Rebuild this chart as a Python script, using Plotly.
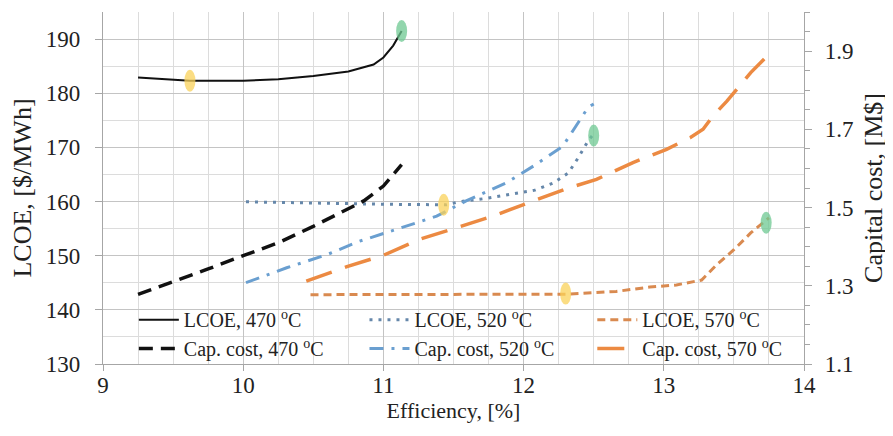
import plotly.graph_objects as go

# ---------------- data ----------------
x_lcoe470 = [9.25, 9.62, 10.0, 10.25, 10.5, 10.75, 10.93, 11.0, 11.07, 11.13]
y_lcoe470 = [182.9, 182.3, 182.3, 182.6, 183.2, 184.0, 185.3, 186.6, 188.8, 191.5]

x_cap470 = [9.25, 9.5, 9.75, 10.0, 10.25, 10.5, 10.75, 10.86, 11.0, 11.13]
y_cap470 = [1.278, 1.31, 1.343, 1.377, 1.41, 1.452, 1.497, 1.517, 1.555, 1.61]

x_lcoe520 = [10.02, 10.5, 11.0, 11.45, 11.55, 11.74, 11.93, 12.08, 12.21, 12.32, 12.39, 12.46, 12.5]
y_lcoe520 = [159.95, 159.7, 159.5, 159.4, 160.0, 160.6, 161.4, 162.1, 163.4, 165.3, 168.1, 171.2, 172.5]

x_cap520 = [10.02, 10.31, 10.6, 10.83, 11.09, 11.38, 11.59, 11.88, 12.07, 12.28, 12.46, 12.5]
y_cap520 = [1.308, 1.346, 1.38, 1.414, 1.444, 1.478, 1.517, 1.564, 1.606, 1.657, 1.756, 1.765]

x_lcoe570 = [10.48, 11.0, 11.5, 12.0, 12.3, 12.66, 12.9, 13.09, 13.27, 13.38, 13.5, 13.62, 13.75]
y_lcoe570 = [142.8, 142.8, 142.8, 142.8, 142.9, 143.4, 144.2, 144.6, 145.5, 148.4, 151.1, 154.2, 157.0]

x_cap570 = [10.45, 10.74, 11.0, 11.26, 11.52, 11.78, 12.07, 12.33, 12.52, 12.78, 13.02, 13.19, 13.28, 13.35, 13.45, 13.62, 13.75]
y_cap570 = [1.312, 1.349, 1.378, 1.419, 1.448, 1.478, 1.517, 1.551, 1.572, 1.615, 1.649, 1.679, 1.70, 1.734, 1.772, 1.845, 1.892]

# highlighted points (on the LCOE curves)
x_min_lcoe = [9.62, 11.43, 12.3]
y_min_lcoe = [182.3, 159.4, 143.0]
x_max_eff = [11.13, 12.5, 13.73]
y_max_eff = [191.5, 172.2, 156.1]

x_ticks = [9, 10, 11, 12, 13, 14]
y_left_ticks = [130, 140, 150, 160, 170, 180, 190]
y_right_ticks = [1.1, 1.3, 1.5, 1.7, 1.9]

FONT = "Liberation Serif"
DEG = " <sup>o</sup>C"
TXT = "#222222"

fig = go.Figure()

fig.add_trace(go.Scatter(x=x_lcoe470, y=y_lcoe470, mode="lines", name="LCOE, 470" + DEG,
                         line=dict(color="#111111", width=2), legend="legend"))
fig.add_trace(go.Scatter(x=x_lcoe520, y=y_lcoe520, mode="lines", name="LCOE, 520" + DEG,
                         line=dict(color="#6587aa", width=3, dash="3px,6px"), legend="legend2"))
fig.add_trace(go.Scatter(x=x_lcoe570, y=y_lcoe570, mode="lines", name="LCOE, 570" + DEG,
                         line=dict(color="#d98a50", width=3, dash="8px,5px"), legend="legend3"))

fig.add_trace(go.Scatter(x=x_cap470, y=y_cap470, mode="lines", name="Cap. cost, 470" + DEG, yaxis="y2",
                         line=dict(color="#111111", width=3.5, dash="14px,8px"), legend="legend4"))
fig.add_trace(go.Scatter(x=x_cap520, y=y_cap520, mode="lines", name="Cap. cost, 520" + DEG, yaxis="y2",
                         line=dict(color="#6a9fd0", width=3, dash="14px,8px,3px,8px"), legend="legend5"))
fig.add_trace(go.Scatter(x=x_cap570, y=y_cap570, mode="lines", name="Cap. cost, 570" + DEG, yaxis="y2",
                         line=dict(color="#ec8a42", width=3.5, dash="27px,14px"), legend="legend6"))

shapes = []
for xs, ys, col in [(x_min_lcoe, y_min_lcoe, "rgba(250,210,90,0.75)"),
                    (x_max_eff, y_max_eff, "rgba(110,200,145,0.75)")]:
    for xv, yv in zip(xs, ys):
        shapes.append(dict(type="circle", xref="x", yref="y",
                           xsizemode="pixel", ysizemode="pixel",
                           xanchor=xv, yanchor=yv,
                           x0=-5.5, x1=5.5, y0=-11, y1=11,
                           fillcolor=col, line=dict(width=0), layer="above"))


def leg(x, y):
    return dict(orientation="h", x=x, xanchor="left", y=y, yanchor="middle",
                bgcolor="rgba(0,0,0,0)", font=dict(size=20, family=FONT, color=TXT),
                itemwidth=40)


TICKFONT = dict(family=FONT, size=23, color=TXT)

# the page body adds an 8 px offset, so the figure is 8 px smaller and margins shifted
fig.update_layout(
    template="none",
    width=885, height=428,
    margin=dict(l=95, r=89, t=4, b=72),
    paper_bgcolor="white", plot_bgcolor="white",
    font=dict(family=FONT, size=23, color=TXT),
    shapes=shapes,
    xaxis=dict(range=[9, 14], tickvals=x_ticks, ticktext=[str(v) for v in x_ticks],
               automargin=False, tickfont=TICKFONT,
               showgrid=True, gridcolor="#c4c4c4", gridwidth=1.3,
               minor=dict(dtick=0.25, showgrid=True, gridcolor="#dcdcdc", gridwidth=1),
               showline=True, linecolor="#a6a6a6", linewidth=1.3,
               ticks="outside", ticklen=6, tickcolor="#a6a6a6",
               zeroline=False, ticklabelstandoff=-6,
               title=dict(text="Efficiency, [%]", font=dict(size=22, family=FONT, color=TXT), standoff=2)),
    yaxis=dict(range=[130, 195], tickvals=y_left_ticks, ticktext=[str(v) for v in y_left_ticks],
               automargin=False, tickfont=TICKFONT,
               showgrid=True, gridcolor="#c4c4c4", gridwidth=1.3,
               minor=dict(dtick=5, showgrid=True, gridcolor="#dcdcdc", gridwidth=1),
               showline=True, linecolor="#a6a6a6", linewidth=1.3,
               ticks="outside", ticklen=7, tickcolor="#a6a6a6",
               zeroline=False, ticklabelstandoff=10,
               title=dict(text="LCOE, [$/MWh]", font=dict(size=26, family=FONT, color=TXT), standoff=6)),
    yaxis2=dict(range=[1.1, 2.0], overlaying="y", side="right",
                automargin=False, tickfont=TICKFONT,
                tickvals=y_right_ticks, ticktext=[f"{v:.1f}" for v in y_right_ticks],
                showgrid=False, zeroline=False,
                minor=dict(dtick=0.05, ticks="outside", ticklen=5, tickcolor="#a6a6a6"),
                showline=True, linecolor="#a6a6a6", linewidth=1.3,
                ticks="outside", ticklen=7, tickcolor="#a6a6a6",
                ticklabelstandoff=8,
                title=dict(text="Capital cost, [M$]", font=dict(size=26, family=FONT, color=TXT), standoff=11)),
    legend=leg(0.044, 0.126),
    legend2=leg(0.373, 0.126),
    legend3=leg(0.698, 0.126),
    legend4=leg(0.044, 0.044),
    legend5=leg(0.373, 0.044),
    legend6=leg(0.698, 0.044),
    showlegend=True,
)

fig.write_html("out.html")
